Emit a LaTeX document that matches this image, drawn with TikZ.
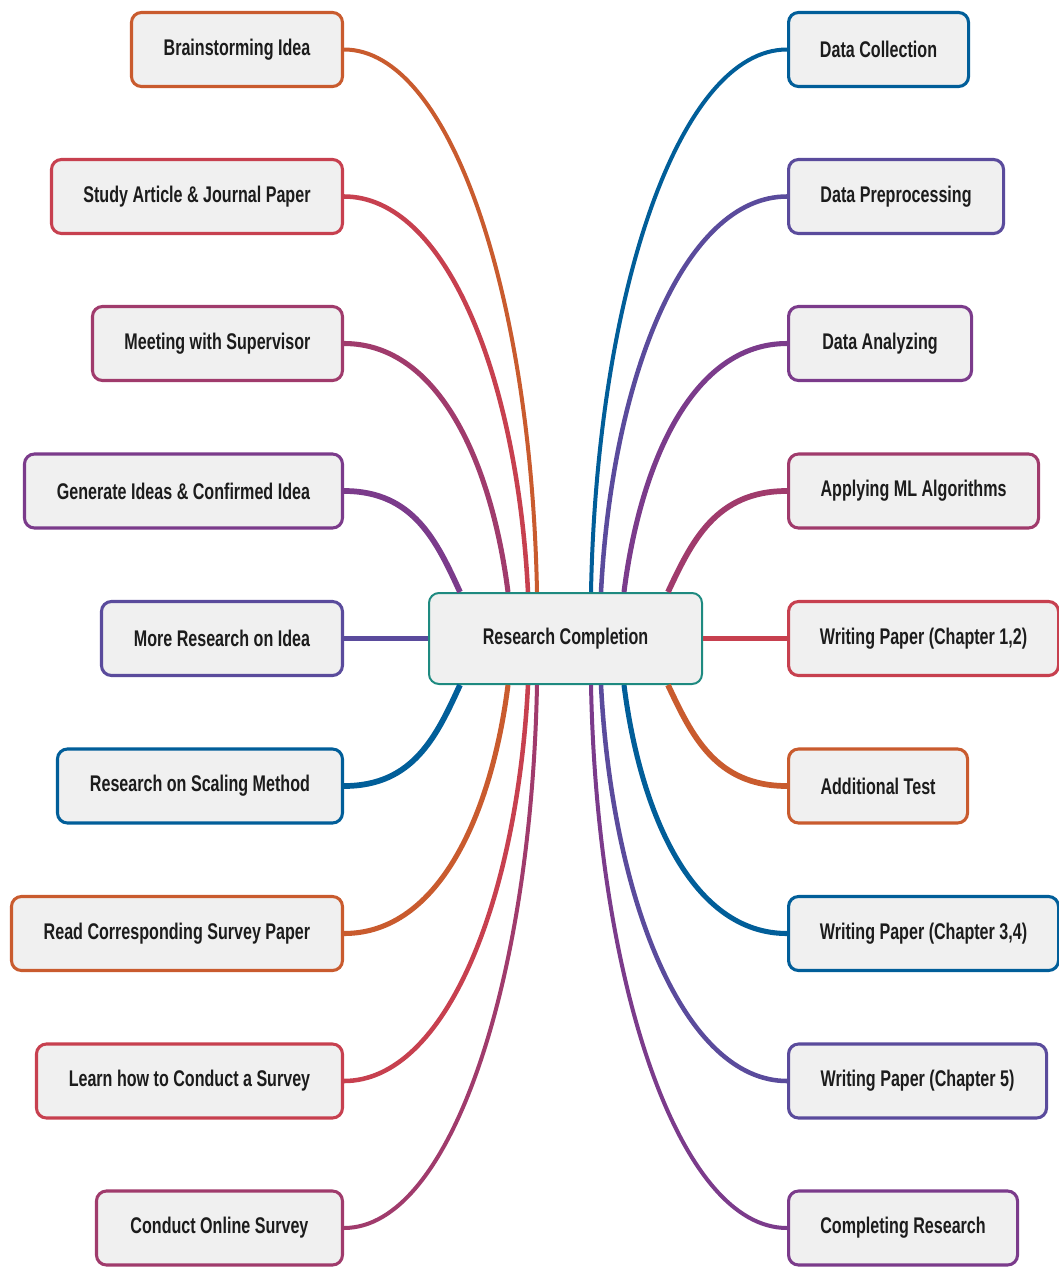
\documentclass[tikz,border=0pt]{standalone}
\usepackage{fontspec}
\newfontfamily\nodefont[FakeStretch=0.71]{Liberation Sans}
\usetikzlibrary{calc}
\definecolor{cora}{HTML}{C95B2E}
\definecolor{cred}{HTML}{C7404F}
\definecolor{cmag}{HTML}{A03B6C}
\definecolor{cpur}{HTML}{7B3B8B}
\definecolor{cind}{HTML}{5A4B9C}
\definecolor{cblu}{HTML}{015E99}
\definecolor{cteal}{HTML}{1E8A80}
\definecolor{boxfill}{HTML}{F0F0F0}
\definecolor{textc}{HTML}{1C1C1C}
\tikzset{
  box/.style={draw, line width=2.3pt, rounded corners=7.5pt, fill=boxfill,
    minimum height={74*0.75pt}, inner sep=0pt, text=textc,
    font=\nodefont\bfseries\fontsize{17}{20}\selectfont},
  lbox/.style={box, anchor=east, minimum width={#1*0.75pt}},
  rbox/.style={box, anchor=west, minimum width={#1*0.75pt}},
  wA/.style={line width=3pt},
  wB/.style={line width=3.4pt},
  wC/.style={line width=3.8pt},
  wD/.style={line width=4.3pt},
  wS/.style={line width=4pt},
}
\begin{document}
\begin{tikzpicture}[x=0.75pt,y=-0.75pt]
\useasboundingbox (0,0) rectangle (1059,1267);
% central node
\node[box, draw=cteal, line width=1.5pt, minimum width={273*0.75pt}, minimum height={91*0.75pt}] (C) at (565.5,638.5) {Research Completion};
% left nodes
\node[lbox=211, draw=cora] (L1) at (344,49.5) {Brainstorming Idea};
\node[lbox=291, draw=cred] (L2) at (344,196.5) {Study Article \& Journal Paper};
\node[lbox=250, draw=cmag] (L3) at (344,343.5) {Meeting with Supervisor};
\node[lbox=318, draw=cpur] (L4) at (344,491) {Generate Ideas \& Confirmed Idea};
\node[lbox=241, draw=cind] (L5) at (344,638.5) {More Research on Idea};
\node[lbox=285, draw=cblu] (L6) at (344,786) {Research on Scaling Method};
\node[lbox=331, draw=cora] (L7) at (344,933.5) {Read Corresponding Survey Paper};
\node[lbox=306, draw=cred] (L8) at (344,1081) {Learn how to Conduct a Survey};
\node[lbox=246, draw=cmag] (L9) at (344,1228) {Conduct Online Survey};
% right nodes
\node[rbox=180, draw=cblu] (R1) at (787,49.5) {Data Collection};
\node[rbox=215, draw=cind] (R2) at (787,196.5) {Data Preprocessing};
\node[rbox=183, draw=cpur] (R3) at (787,343.5) {Data Analyzing};
\node[rbox=250, draw=cmag] (R4) at (787,491) {Applying ML Algorithms};
\node[rbox=270, draw=cred] (R5) at (787,638.5) {Writing Paper (Chapter 1,2)};
\node[rbox=179, draw=cora] (R6) at (787,786) {Additional Test};
\node[rbox=270, draw=cblu] (R7) at (787,933.5) {Writing Paper (Chapter 3,4)};
\node[rbox=258, draw=cind] (R8) at (787,1081) {Writing Paper (Chapter 5)};
\node[rbox=229, draw=cpur] (R9) at (787,1228) {Completing Research};
% attach points on the central node
\coordinate (t1) at ($(C.north west)+(109,0)$);
\coordinate (t2) at ($(C.north west)+(100,0)$);
\coordinate (t3) at ($(C.north west)+(80,0)$);
\coordinate (t4) at ($(C.north west)+(32,0)$);
\coordinate (b6) at ($(C.south west)+(32,0)$);
\coordinate (b7) at ($(C.south west)+(80,0)$);
\coordinate (b8) at ($(C.south west)+(100,0)$);
\coordinate (b9) at ($(C.south west)+(109,0)$);
\coordinate (u1) at ($(C.north west)+(163,0)$);
\coordinate (u2) at ($(C.north west)+(173,0)$);
\coordinate (u3) at ($(C.north west)+(196,0)$);
\coordinate (u4) at ($(C.north west)+(240,0)$);
\coordinate (d6) at ($(C.south west)+(240,0)$);
\coordinate (d7) at ($(C.south west)+(196,0)$);
\coordinate (d8) at ($(C.south west)+(173,0)$);
\coordinate (d9) at ($(C.south west)+(163,0)$);
% left connectors
\draw[cora, wA] (L1.east) .. controls +(106,0) and +(-5.8,-298) .. (t1);
\draw[cred, wB] (L2.east) .. controls +(101,0) and +(-11,-217.5) .. (t2);
\draw[cmag, wC] (L3.east) .. controls +(95,0) and +(-16.4,-129) .. (t3);
\draw[cpur, wD] (L4.east) .. controls +(69.6,0) and +(-23.2,-50.5) .. (t4);
\draw[cind, wS] (L5.east) -- (C.west);
\draw[cblu, wD] (L6.east) .. controls +(69.6,0) and +(-23.2,50.5) .. (b6);
\draw[cora, wC] (L7.east) .. controls +(95,0) and +(-16.4,129) .. (b7);
\draw[cred, wB] (L8.east) .. controls +(101,0) and +(-11,217.5) .. (b8);
\draw[cmag, wA] (L9.east) .. controls +(106,0) and +(-5.8,298) .. (b9);
% right connectors
\draw[cblu, wA] (R1.west) .. controls +(-108,0) and +(5.9,-298) .. (u1);
\draw[cind, wB] (R2.west) .. controls +(-102,0) and +(11.2,-217.5) .. (u2);
\draw[cpur, wC] (R3.west) .. controls +(-94.5,0) and +(16.3,-129) .. (u3);
\draw[cmag, wD] (R4.west) .. controls +(-71.4,0) and +(23.8,-50.5) .. (u4);
\draw[cred, wS] (R5.west) -- (C.east);
\draw[cora, wD] (R6.west) .. controls +(-71.4,0) and +(23.8,50.5) .. (d6);
\draw[cblu, wC] (R7.west) .. controls +(-94.5,0) and +(16.3,129) .. (d7);
\draw[cind, wB] (R8.west) .. controls +(-102,0) and +(11.2,217.5) .. (d8);
\draw[cpur, wA] (R9.west) .. controls +(-108,0) and +(5.9,298) .. (d9);
\end{tikzpicture}
\end{document}
